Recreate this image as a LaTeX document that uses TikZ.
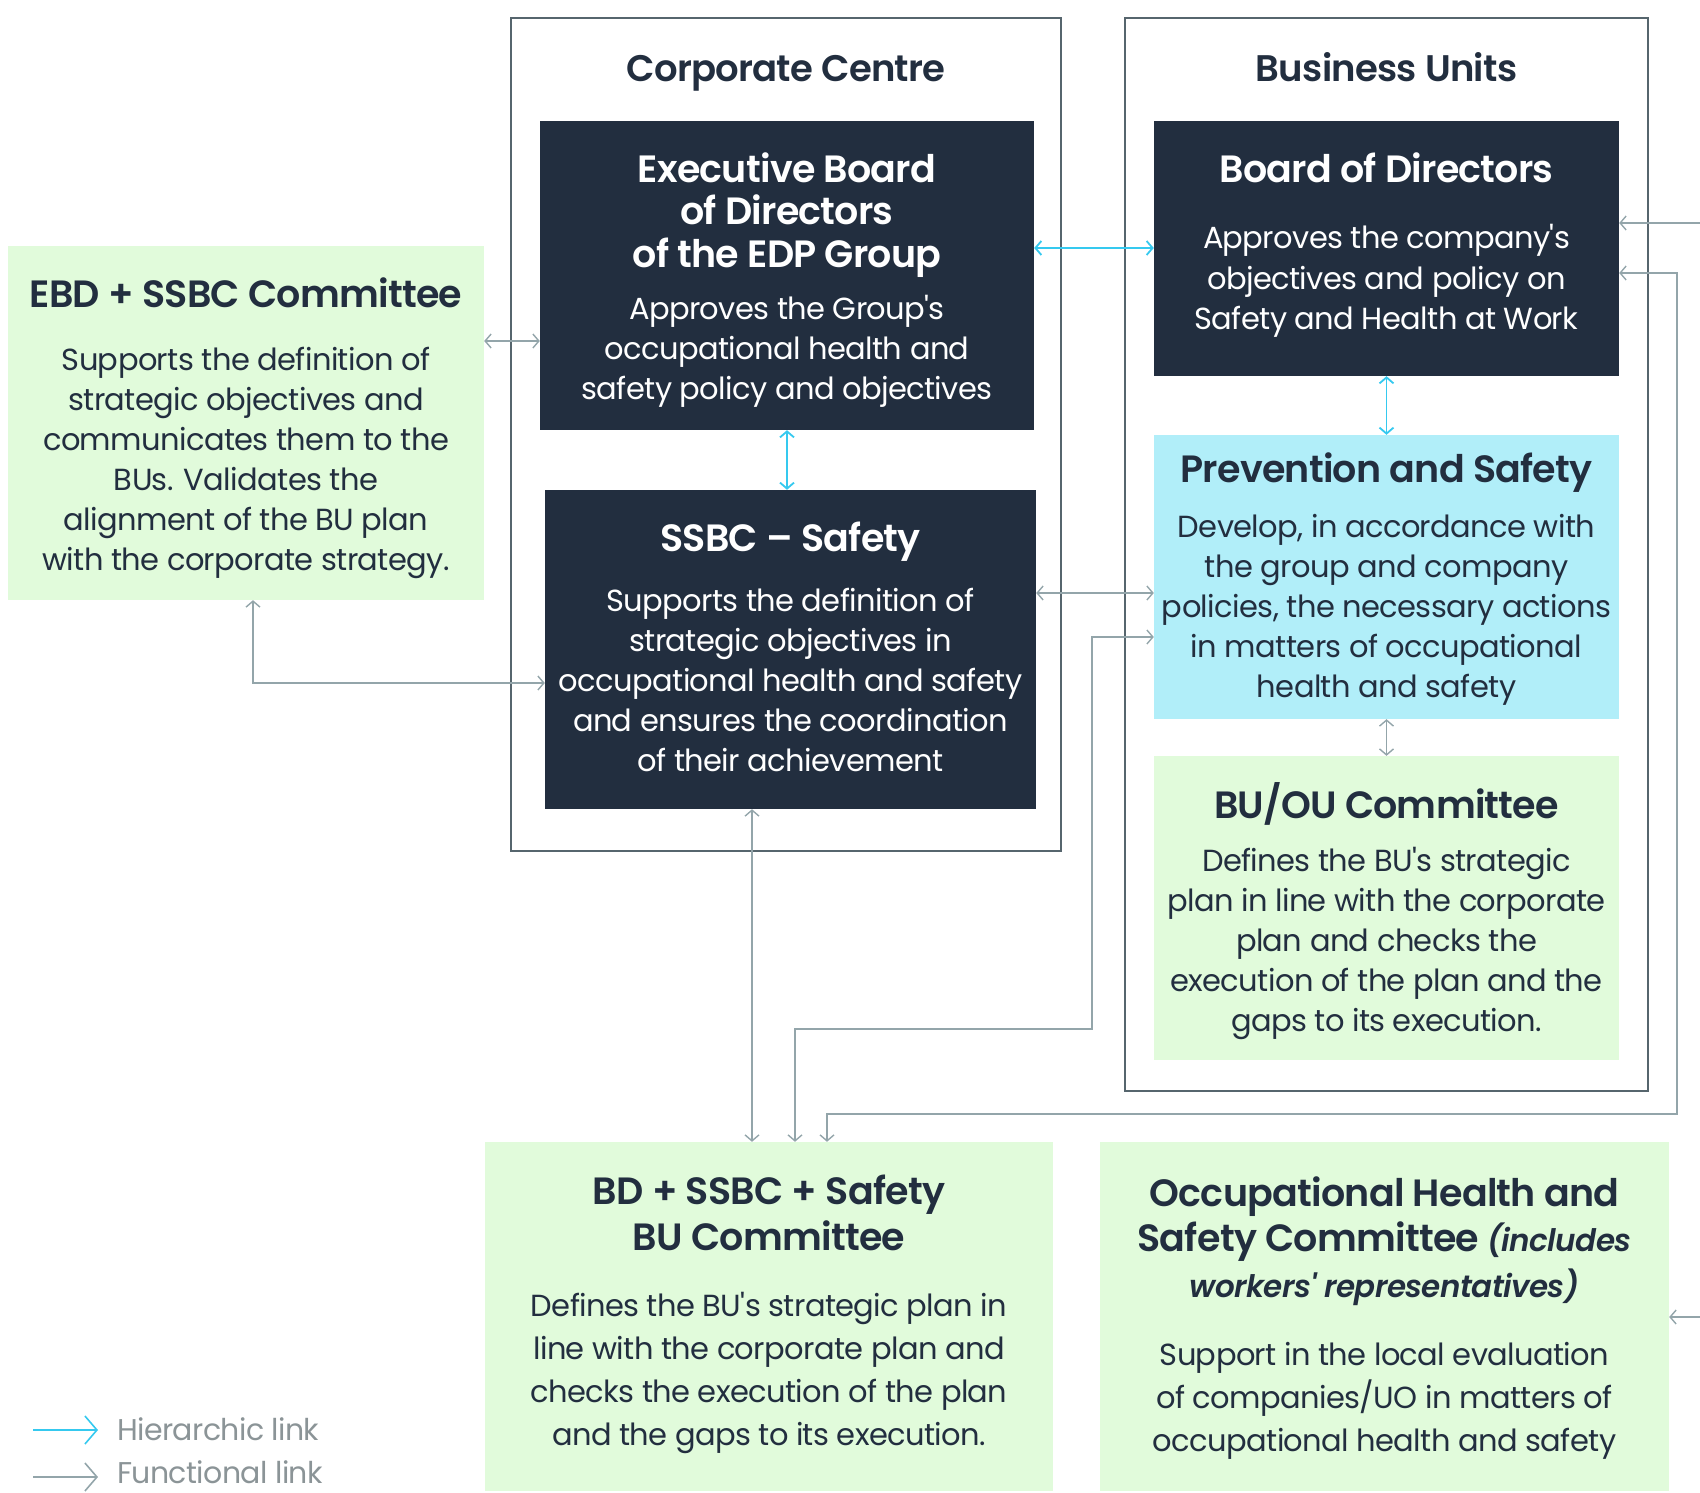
\documentclass[tikz,border=0pt]{standalone}
\usepackage{fontspec}
\setmainfont{Poppins}[LetterSpace=-2, Ligatures=TeXOff, BoldFont={Poppins SemiBold}, BoldItalicFont={Poppins SemiBold Italic}]
\usetikzlibrary{arrows.meta}

\definecolor{edpnavy}{HTML}{222E3F}
\definecolor{edpmint}{HTML}{E1FBDB}
\definecolor{edpsky}{HTML}{B1EEF9}
\definecolor{edpcyan}{HTML}{35C9EF}
\definecolor{edpgray}{HTML}{93A5AA}
\definecolor{framegray}{HTML}{56656D}
\definecolor{legendgray}{HTML}{8B9497}

\tikzset{
  >={Straight Barb[length=6pt,width=14pt]},
  frame/.style={draw=framegray, line width=1.6pt, inner sep=0pt},
  darkbox/.style={fill=edpnavy, inner sep=0pt},
  greenbox/.style={fill=edpmint, inner sep=0pt},
  skybox/.style={fill=edpsky, inner sep=0pt},
  title/.style={anchor=base, inner sep=0pt, text=edpnavy, font=\fontsize{37}{40}\selectfont\bfseries},
  head/.style={anchor=north, inner sep=0pt, align=center, text=edpnavy,
    font=\fontsize{38}{42.5}\selectfont\bfseries, execute at begin node=\strut},
  body/.style={anchor=north, inner sep=0pt, align=center, text=edpnavy,
    font=\fontsize{30.5}{40}\selectfont, execute at begin node=\strut},
  hier/.style={draw=edpcyan, line width=1.8pt},
  func/.style={draw=edpgray, line width=1.4pt},
  legendtext/.style={anchor=base west, inner sep=0pt, text=legendgray, font=\fontsize{30}{34}\selectfont},
}

\begin{document}
\begin{tikzpicture}[x=1pt, y=-1pt]
\useasboundingbox (0,0) rectangle (1700,1493);

% frames
\node[frame, minimum width=550pt, minimum height=833pt] (ccFrame) at (786,434.5) {};
\node[frame, minimum width=523pt, minimum height=1073pt] (buFrame) at (1386.5,554.5) {};
\node[title] (ccTitle) at (786,82) {Corporate Centre};
\node[title] (buTitle) at (1386.5,82) {Business Units};

% boxes
\node[greenbox, minimum width=476pt, minimum height=354pt] (ebd) at (246,423) {};
\node[darkbox, minimum width=494pt, minimum height=309pt] (exec) at (787,275.5) {};
\node[darkbox, minimum width=491pt, minimum height=319pt] (ssbc) at (790.5,649.5) {};
\node[darkbox, minimum width=465pt, minimum height=255pt] (board) at (1386.5,248.5) {};
\node[skybox, minimum width=465pt, minimum height=284pt] (prev) at (1386.5,577) {};
\node[greenbox, minimum width=465pt, minimum height=304pt] (buou) at (1386.5,908) {};
\node[greenbox, minimum width=568pt, minimum height=349pt] (bdc) at (769,1316.5) {};
\node[greenbox, minimum width=569pt, minimum height=349pt] (ohs) at (1384.5,1316.5) {};

% texts
\node[head] (ebdHead) at (246,277.25) {EBD + SSBC Committee};
\node[body] (ebdBody) at (246,347) {Supports the definition of\\strategic objectives and\\communicates them to the\\BUs. Validates the\\alignment of the BU plan\\with the corporate strategy.};

\node[head, text=white] (execHead) at (787,152.5) {Executive Board\\of Directors\\of the EDP Group};
\node[body, text=white] (execBody) at (787,295) {Approves the Group's\\occupational health and\\safety policy and objectives};

\node[head, text=white] (ssbcHead) at (790.5,522) {SSBC – Safety};
\node[body, text=white] (ssbcBody) at (790.5,588) {Supports the definition of\\strategic objectives in\\occupational health and safety\\and ensures the coordination\\of their achievement};

\node[head, text=white] (boardHead) at (1386.5,153) {Board of Directors};
\node[body, text=white, font=\fontsize{30.5}{40.5}\selectfont] (boardBody) at (1386.5,224.5) {Approves the company's\\objectives and policy on\\Safety and Health at Work};

\node[head] (prevHead) at (1386.5,452.5) {Prevention and Safety};
\node[body] (prevBody) at (1386.5,514.5) {Develop, in accordance with\\the group and company\\policies, the necessary actions\\in matters of occupational\\health and safety};

\node[head] (buouHead) at (1386.5,782) {BU/OU Committee};
\node[body] (buouBody) at (1386.5,847) {Defines the BU's strategic\\plan in line with the corporate\\plan and checks the\\execution of the plan and the\\gaps to its execution.};

\node[head, font=\fontsize{38}{46}\selectfont\bfseries] (bdcHead) at (769,1175) {BD + SSBC + Safety\\BU Committee};
\node[body, font=\fontsize{30.5}{43}\selectfont] (bdcBody) at (769,1292.5) {Defines the BU's strategic plan in\\line with the corporate plan and\\checks the execution of the plan\\and the gaps to its execution.};

\node[head, font=\fontsize{38}{45.5}\selectfont\bfseries] (ohsHead) at (1384.5,1176) {Occupational Health and\\Safety Committee {\fontsize{31}{45.5}\selectfont\itshape(includes}\\{\fontsize{31}{45.5}\selectfont\itshape workers' representatives)}};
\node[body, font=\fontsize{30.5}{43}\selectfont] (ohsBody) at (1384.5,1342.5) {Support in the local evaluation\\of companies/UO in matters of\\occupational health and safety};

% hierarchic links
\draw[hier, <->] (exec.east |- 0,248) -- (board.west |- 0,248);
\draw[hier, <->] (exec.south) -- (ssbc.north -| exec.south);
\draw[hier, <->] (board.south) -- (prev.north);

% functional links
\draw[func, <->] (ebd.east |- 0,341) -- (exec.west |- 0,341);
\draw[func, <->] (ebd.south -| 253,0) |- (ssbc.west |- 0,683);
\draw[func, <->] (ssbc.east |- 0,593) -- (prev.west |- 0,593);
\draw[func, <->] (prev.south) -- (buou.north);
\draw[func, <->] (ssbc.south -| 752,0) -- (bdc.north -| 752,0);
\draw[func, <->] (prev.west |- 0,637) -- (1092,637) -- (1092,1029) -- (795,1029) -- (bdc.north -| 795,0);
\draw[func, <->] (board.east |- 0,273) -- (1677,273) -- (1677,1114) -- (827,1114) -- (bdc.north -| 827,0);
\coordinate (boardIn) at (1700,223);
\coordinate (ohsIn) at (1700,1317);
\draw[func, ->] (boardIn) -- (board.east |- boardIn);
\draw[func, ->] (ohsIn) -- (ohs.east |- ohsIn);

% legend
\node[legendtext] (hierLabel) at (117,1440) {Hierarchic link};
\node[legendtext] (funcLabel) at (117,1483) {Functional link};
\coordinate (hierStart) at (33,1430);
\coordinate (funcStart) at (33,1477);
\draw[hier, line width=1.6pt, -{Straight Barb[length=12pt,width=28pt]}] (hierStart) -- (hierStart -| 98,0);
\draw[func, line width=1.6pt, -{Straight Barb[length=12pt,width=28pt]}] (funcStart) -- (funcStart -| 98,0);
\end{tikzpicture}
\end{document}
